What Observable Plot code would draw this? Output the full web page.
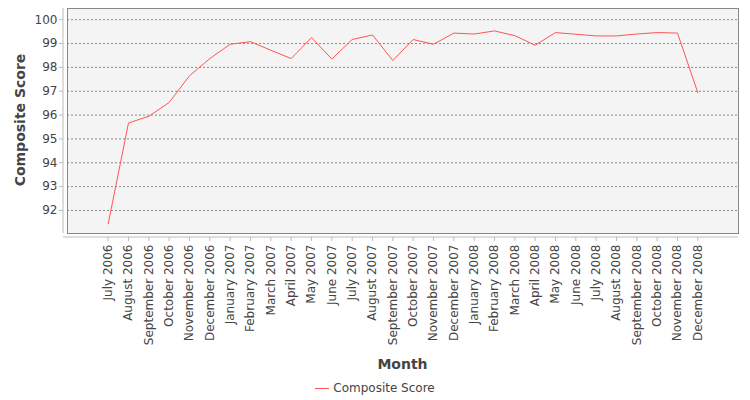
<!DOCTYPE html>
<html><head><meta charset="utf-8">
<script src="https://cdn.jsdelivr.net/npm/d3@7"></script>
<script src="https://cdn.jsdelivr.net/npm/@observablehq/plot@0.6"></script>
<style>
body{margin:0;background:#fff;font-family:"DejaVu Sans",sans-serif;}
#legend{position:absolute;top:381px;left:0;width:750px;text-align:center;font-size:12px;color:#444;}
#legend span.sw{display:inline-block;width:14px;height:0;border-top:1px solid #ff5555;vertical-align:middle;margin-right:4px;}
</style></head>
<body>
<div id="chart"></div>
<div id="legend"><span class="sw"></span>Composite Score</div>
<script>
const months = ["July 2006","August 2006","September 2006","October 2006","November 2006","December 2006",
"January 2007","February 2007","March 2007","April 2007","May 2007","June 2007","July 2007","August 2007",
"September 2007","October 2007","November 2007","December 2007","January 2008","February 2008","March 2008",
"April 2008","May 2008","June 2008","July 2008","August 2008","September 2008","October 2008","November 2008","December 2008"];
const scores = [91.44,95.67,95.95,96.53,97.65,98.37,98.97,99.08,98.72,98.37,99.25,98.35,99.17,99.36,
98.29,99.17,98.97,99.44,99.40,99.53,99.33,98.93,99.46,99.39,99.32,99.32,99.40,99.46,99.44,96.94];
const yTicks = [92,93,94,95,96,97,98,99,100];
const data = months.map((m,i)=>({month:m, score:scores[i]}));

const chart = Plot.plot({
  width: 750, height: 375,
  marginLeft: 67, marginRight: 12, marginTop: 8, marginBottom: 142,
  style: {fontFamily: "DejaVu Sans, sans-serif", fontSize: "12px", color: "#444", background: "#fff"},
  x: {type: "point", domain: months, padding: 2, round: false, label: null},
  y: {domain: [91.035, 100.47], label: null},
  marks: [
    Plot.frame({fill: "#f4f4f4"}),
    Plot.gridY(yTicks, {stroke: "#888", strokeOpacity: 1, strokeDasharray: "2,2"}),
    Plot.frame({stroke: "#888", strokeWidth: 1}),
    Plot.axisY(yTicks, {tickSize: 4, dx: -4, tickPadding: 2, fill: "#444", stroke: "#bbb", fontSize: 12}),
    Plot.axisX({tickSize: 4, dy: 4, tickRotate: -90, tickPadding: 3, fill: "#444", stroke: "#bbb", fontSize: 12}),
    Plot.line(data, {x: "month", y: "score", stroke: "#ff5555", strokeWidth: 1})
  ]
});
document.getElementById("chart").appendChild(chart);

// axis lines & titles
const svg = d3.select(chart);
svg.append("line").attr("x1",63).attr("x2",63).attr("y1",8).attr("y2",233).attr("stroke","#bbb");
svg.append("line").attr("x1",63).attr("x2",738).attr("y1",237).attr("y2",237).attr("stroke","#bbb");
svg.append("text").text("Composite Score").attr("transform","translate(25,120) rotate(-90)")
  .attr("text-anchor","middle").attr("font-weight","bold").attr("font-size",14).attr("fill","#444");
svg.append("text").text("Month").attr("x",402.5).attr("y",369)
  .attr("text-anchor","middle").attr("font-weight","bold").attr("font-size",14).attr("fill","#444");
</script>
</body></html>
